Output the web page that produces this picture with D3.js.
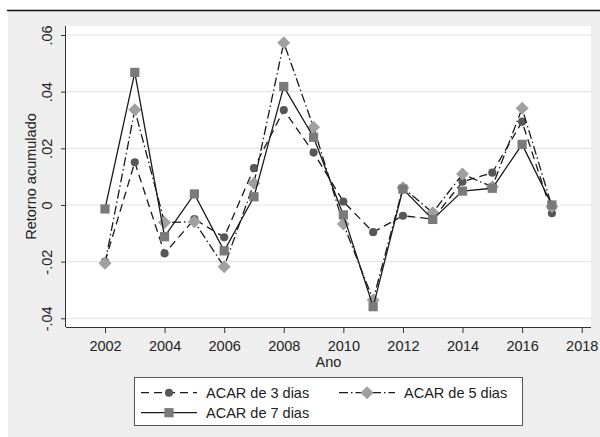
<!DOCTYPE html>
<html><head><meta charset="utf-8">
<script src="https://cdn.jsdelivr.net/npm/d3@7"></script>
<style>body{margin:0;background:#fff}svg{display:block;font-family:"Liberation Sans",Arial,sans-serif}</style>
</head><body>
<script>
const years = [2002,2003,2004,2005,2006,2007,2008,2009,2010,2011,2012,2013,2014,2015,2016,2017];
const acar3 = [-0.0200,0.0151,-0.0171,-0.0050,-0.0114,0.0130,0.0335,0.0185,0.0012,-0.0096,-0.0038,-0.0050,0.0082,0.0114,0.0294,-0.0029];
const acar5 = [-0.0206,0.0336,-0.0062,-0.0059,-0.0218,0.0077,0.0573,0.0274,-0.0067,-0.0335,0.0061,-0.0027,0.0109,0.0064,0.0341,-0.0005];
const acar7 = [-0.0014,0.0468,-0.0112,0.0039,-0.0162,0.0029,0.0418,0.0239,-0.0035,-0.0359,0.0056,-0.0051,0.0049,0.0059,0.0214,0.0000];
const xTicks = [2002,2004,2006,2008,2010,2012,2014,2016,2018];
const yTicks = [-0.04,-0.02,0,0.02,0.04,0.06];
const yTickLabels = ["-.04","-.02","0",".02",".04",".06"];
const seriesNames = ["ACAR de 3 dias","ACAR de 5 dias","ACAR de 7 dias"];

const W=600,H=437;
const svg=d3.select("body").append("svg").attr("width",W).attr("height",H);
svg.append("rect").attr("x",8).attr("y",11).attr("width",W-8).attr("height",H-11).attr("fill","#eeeeee");
svg.append("line").attr("x1",7).attr("x2",W).attr("y1",10.5).attr("y2",10.5).attr("stroke","#111").attr("stroke-width",1.5);

const pL=66,pR=591,pT=26,pB=327;
svg.append("rect").attr("x",pL).attr("y",pT).attr("width",pR-pL).attr("height",pB-pT).attr("fill","#fff");

const x=d3.scaleLinear().domain([2002,2018]).range([105,581.7]);
const y=d3.scaleLinear().domain([-0.04,0.06]).range([318.3,35]);

// grid
svg.append("g").selectAll("line").data(yTicks).join("line")
  .attr("x1",pL).attr("x2",pR).attr("y1",d=>y(d)).attr("y2",d=>y(d))
  .attr("stroke","#e6e6e6").attr("stroke-width",1.2);

// axes
const xAxis=d3.axisBottom(x).tickValues(xTicks).tickFormat(d3.format("d")).tickSize(6).tickSizeOuter(0);
const gx=svg.append("g").attr("transform",`translate(0,${pB})`).call(xAxis);
gx.select(".domain").attr("d",`M${pL},0.5H${pR}`).attr("stroke","#333");
gx.selectAll(".tick line").attr("stroke","#333");
gx.selectAll(".tick text").attr("font-size",14.5).attr("fill","#222").attr("dy",null).attr("y",24);

const yAxis=d3.axisLeft(y).tickValues(yTicks).tickFormat((d,i)=>yTickLabels[i]).tickSize(5).tickSizeOuter(0);
const gy=svg.append("g").attr("transform",`translate(${pL},0)`).call(yAxis);
gy.select(".domain").attr("d",`M-0.5,${pT}V${pB}`).attr("stroke","#333");
gy.selectAll(".tick line").attr("stroke","#333");
gy.selectAll(".tick text").attr("font-size",14.5).attr("fill","#222")
  .attr("x",null).attr("dy",null).attr("text-anchor","middle")
  .attr("transform","translate(-14,0) rotate(-90)");

svg.append("text").attr("transform",`translate(36,${(pT+pB)/2}) rotate(-90)`).attr("text-anchor","middle")
  .attr("font-size",14.5).attr("fill","#222").text("Retorno acumulado");
svg.append("text").attr("x",(pL+pR)/2).attr("y",367).attr("text-anchor","middle")
  .attr("font-size",14.5).attr("fill","#222").text("Ano");

const styles=[
  {data:acar3,dash:"8,5",marker:"circle",fill:"#575757"},
  {data:acar5,dash:"9,3,1.5,3",marker:"diamond",fill:"#a0a0a0"},
  {data:acar7,dash:null,marker:"square",fill:"#7a7a7a"}
];
const diamondPath="M0,-6.5L6.5,0L0,6.5L-6.5,0Z";
const sym={circle:d3.symbol(d3.symbolCircle,52)(),diamond:diamondPath,square:d3.symbol(d3.symbolSquare,85)()};
const line=d3.line().x((d,i)=>x(years[i])).y(d=>y(d));
styles.forEach(s=>{
  svg.append("path").attr("d",line(s.data)).attr("fill","none").attr("stroke","#1a1a1a")
    .attr("stroke-width",1.3).attr("stroke-dasharray",s.dash);
  svg.append("g").selectAll("path").data(s.data).join("path")
    .attr("transform",(d,i)=>`translate(${x(years[i])},${y(d)})`)
    .attr("d",sym[s.marker]).attr("fill",s.fill);
});

// legend
svg.append("rect").attr("x",134.5).attr("y",377.5).attr("width",388).attr("height",48).attr("fill","#fff").attr("stroke","#555").attr("stroke-width",1);
const legPos=[[141,392.7],[339,392.7],[141,412.7]];
styles.forEach((s,i)=>{
  const [lx,ly]=legPos[i];
  svg.append("line").attr("x1",lx).attr("x2",lx+56).attr("y1",ly).attr("y2",ly)
    .attr("stroke","#1a1a1a").attr("stroke-width",1.3).attr("stroke-dasharray",s.dash);
  svg.append("path").attr("transform",`translate(${lx+28},${ly})`).attr("d",sym[s.marker]).attr("fill",s.fill);
  svg.append("text").attr("x",lx+65).attr("y",ly+5.5).attr("font-size",14.5).attr("fill","#222").text(seriesNames[i]);
});
</script>
</body></html>
